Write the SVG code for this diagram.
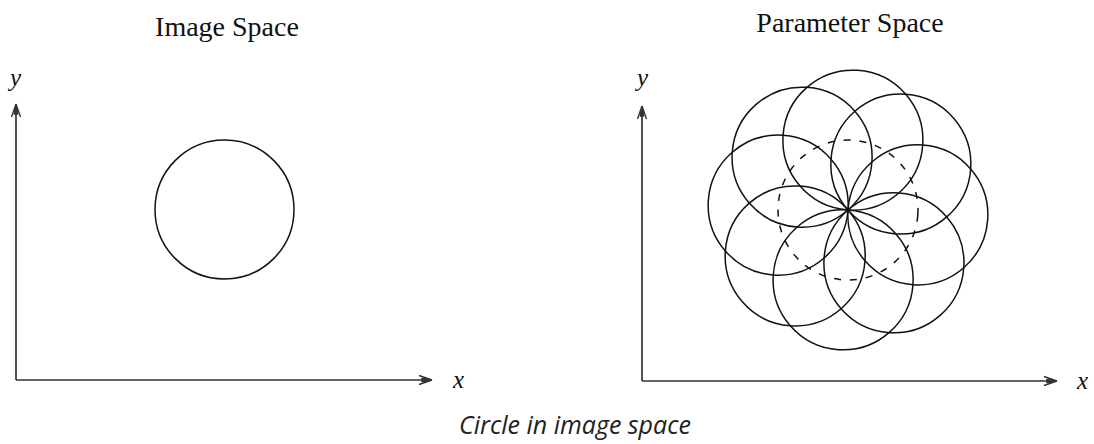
<svg xmlns="http://www.w3.org/2000/svg" width="1094" height="444" viewBox="0 0 1094 444">
<style>
.title{font-family:"Liberation Serif","Times New Roman",serif;font-size:28px;fill:#111}
.lbl{font-family:"Liberation Serif","Times New Roman",serif;font-style:italic;font-size:25px;fill:#111}
.cap{font-family:"Open Sans","Liberation Sans",sans-serif;font-style:italic;font-size:25px;fill:#222}
.axis{stroke:#333;stroke-width:1.7;fill:none}
.c{stroke:#111;stroke-width:1.5;fill:none}
.d{stroke:#111;stroke-width:1.5;fill:none;stroke-dasharray:7 9}
</style>
<defs>
<marker id="ah" viewBox="-14 -6 16 12" refX="0" refY="0" markerWidth="16" markerHeight="12" markerUnits="userSpaceOnUse" orient="auto">
<path d="M0,0 L-13,-4.5 M0,0 L-13,4.5 M0,0 L-10,-1.5 L-10,1.5 Z" stroke="#333" stroke-width="1.4" fill="#333"/>
</marker>
</defs>
<rect width="1094" height="444" fill="#fff"/>
<g id="connectors">
<path class="axis" d="M16,380 V104" marker-end="url(#ah)"/>
<path class="axis" d="M16,380 H432" marker-end="url(#ah)"/>
<path class="axis" d="M642,381 V106" marker-end="url(#ah)"/>
<path class="axis" d="M642,381 H1057" marker-end="url(#ah)"/>
</g>
<g id="image-space">
<text class="title" x="227" y="36" text-anchor="middle">Image Space</text>
<text class="lbl" x="10" y="86">y</text>
<text class="lbl" x="453" y="388">x</text>
<circle class="c" cx="224.5" cy="209.5" r="69.5"/>
</g>
<g id="parameter-space">
<text class="title" x="850" y="32" text-anchor="middle">Parameter Space</text>
<text class="lbl" x="637" y="86">y</text>
<text class="lbl" x="1077" y="389">x</text>
<g transform="rotate(4 848 210)">
<circle class="d" cx="848" cy="210" r="70"/>
<circle class="c" cx="918" cy="210" r="70"/>
<circle class="c" cx="897.5" cy="259.5" r="70"/>
<circle class="c" cx="848" cy="280" r="70"/>
<circle class="c" cx="798.5" cy="259.5" r="70"/>
<circle class="c" cx="778" cy="210" r="70"/>
<circle class="c" cx="798.5" cy="160.5" r="70"/>
<circle class="c" cx="848" cy="140" r="70"/>
<circle class="c" cx="897.5" cy="160.5" r="70"/>
</g>
</g>
<g id="caption">
<text class="cap" x="575" y="434" text-anchor="middle">Circle in image space</text>
</g>
</svg>
